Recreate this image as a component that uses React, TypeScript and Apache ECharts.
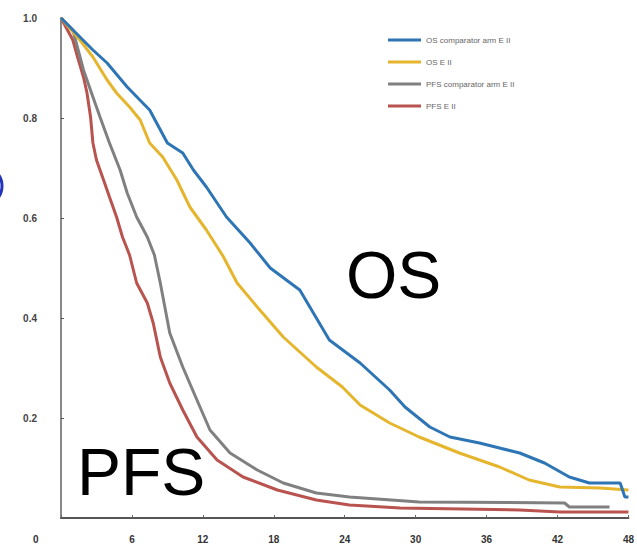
import React, { useEffect, useRef } from "react";
import * as echarts from "echarts";

const xTicks = [0, 6, 12, 18, 24, 30, 36, 42, 48];
const yTicks = [0, 0.2, 0.4, 0.6, 0.8, 1.0];

const seriesNames = [
  "OS comparator arm E II",
  "OS E II",
  "PFS comparator arm E II",
  "PFS E II",
];
const seriesColors = ["#2e75b5", "#e6b52e", "#808080", "#b9534f"];

const osBlue: [number, number][] = [
  [0, 1.0], [2.7, 0.936], [3.9, 0.91], [5.6, 0.862], [7.5, 0.816], [9.0, 0.75],
  [10.3, 0.73], [11.2, 0.696], [12.3, 0.662], [14.0, 0.602], [16.0, 0.55],
  [17.7, 0.5], [20.2, 0.456], [22.7, 0.356], [25.3, 0.31], [27.8, 0.256],
  [29.1, 0.222], [31.2, 0.182], [32.9, 0.162], [35.4, 0.15], [38.8, 0.13],
  [40.9, 0.11], [43.0, 0.082], [44.7, 0.07], [47.3, 0.07], [47.7, 0.042], [48, 0.042],
];
const osYellow: [number, number][] = [
  [0, 1.0], [1.6, 0.956], [2.7, 0.922], [3.9, 0.876], [4.7, 0.85], [5.8, 0.822],
  [6.7, 0.796], [7.5, 0.75], [8.6, 0.722], [9.8, 0.676], [10.9, 0.622],
  [12.3, 0.576], [13.7, 0.524], [14.9, 0.47], [16.6, 0.422], [18.8, 0.362],
  [21.6, 0.302], [23.8, 0.262], [25.3, 0.226], [27.8, 0.19], [30.3, 0.162],
  [33.7, 0.13], [37.1, 0.102], [39.6, 0.076], [42.2, 0.062], [45.6, 0.06], [48, 0.056],
];
const pfsGray: [number, number][] = [
  [0, 1.0], [1.0, 0.976], [1.9, 0.896], [2.7, 0.842], [3.3, 0.802], [4.1, 0.75],
  [5.0, 0.696], [5.6, 0.65], [6.4, 0.602], [7.3, 0.562], [7.9, 0.526],
  [8.4, 0.47], [9.2, 0.37], [10.3, 0.302], [11.5, 0.236], [12.6, 0.176],
  [14.3, 0.13], [16.6, 0.096], [18.8, 0.07], [21.6, 0.05], [24.4, 0.042],
  [30.3, 0.032], [42.6, 0.03], [43.0, 0.022], [46.4, 0.022],
];
const pfsRed: [number, number][] = [
  [0, 1.0], [1.0, 0.956], [1.4, 0.922], [1.9, 0.882], [2.2, 0.85], [2.5, 0.802],
  [2.7, 0.75], [3.0, 0.716], [3.6, 0.676], [4.1, 0.642], [4.7, 0.602],
  [5.2, 0.562], [5.8, 0.526], [6.4, 0.47], [7.3, 0.43], [7.8, 0.39],
  [8.4, 0.322], [9.2, 0.27], [10.3, 0.216], [11.5, 0.162], [13.2, 0.116],
  [15.4, 0.082], [18.3, 0.056], [21.6, 0.036], [24.4, 0.026], [28.7, 0.02],
  [38.8, 0.016], [42.2, 0.012], [48, 0.012],
];

const allSeries = [osBlue, osYellow, pfsGray, pfsRed];

export default function App() {
  const ref = useRef<HTMLDivElement>(null);
  useEffect(() => {
    if (!ref.current) return;
    const chart = echarts.init(ref.current, undefined, { renderer: "svg" });
    const font = "Liberation Sans, Arial, sans-serif";
    chart.setOption({
      animation: false,
      grid: { left: 61, right: 8, top: 18, bottom: 32 },
      legend: {
        orient: "vertical",
        left: 383,
        top: 29,
        itemWidth: 33,
        itemHeight: 3,
        itemGap: 10,
        icon: "rect",
        textStyle: { fontSize: 8, color: "#666", fontFamily: font, lineHeight: 12 },
        data: seriesNames,
      },
      xAxis: {
        type: "value",
        min: xTicks[0],
        max: xTicks[xTicks.length - 1],
        interval: 6,
        splitLine: { show: false },
        axisLine: { lineStyle: { color: "#555", width: 2 } },
        axisTick: { show: true, inside: true, length: 3, lineStyle: { color: "#666" } },
        axisLabel: {
          color: "#333",
          fontSize: 10,
          fontWeight: "bold",
          fontFamily: font,
          margin: 16,
          formatter: (v: number) => (v === 0 ? "" : String(v)),
        },
      },
      yAxis: {
        type: "value",
        min: yTicks[0],
        max: yTicks[yTicks.length - 1],
        interval: 0.2,
        splitLine: { show: false },
        axisLine: { show: true, lineStyle: { color: "#888", width: 2 } },
        axisTick: { show: true, inside: true, length: 3, lineStyle: { color: "#555" } },
        axisLabel: {
          color: "#444",
          fontSize: 10,
          fontWeight: "bold",
          fontFamily: font,
          margin: 24,
          formatter: (v: number) => (v === 0 ? "" : v.toFixed(1)),
        },
      },
      series: allSeries.map((d, i) => ({
        name: seriesNames[i],
        type: "line",
        data: d,
        showSymbol: false,
        symbol: "none",
        lineStyle: { color: seriesColors[i], width: 3 },
        itemStyle: { color: seriesColors[i] },
        z: 4 - i,
      })),
      graphic: [
        {
          type: "text",
          left: 33,
          top: 534,
          style: { text: "0", fontSize: 10, fontWeight: "bold", fill: "#333", fontFamily: font },
        },
        {
          type: "text",
          x: 346,
          y: 275,
          style: {
            text: "OS",
            fontSize: 66,
            fill: "#000",
            fontFamily: font,
            verticalAlign: "middle",
          },
        },
        {
          type: "text",
          x: 77,
          y: 472,
          style: {
            text: "PFS",
            fontSize: 66,
            fill: "#000",
            fontFamily: font,
            verticalAlign: "middle",
          },
        },
        {
          type: "ellipse",
          shape: { cx: -10, cy: 186, rx: 12, ry: 16 },
          style: { fill: "none", stroke: "#2233bb", lineWidth: 3 },
        },
      ],
    });
    return () => chart.dispose();
  }, []);
  return <div ref={ref} style={{ width: 637, height: 550, position: "absolute", left: 0, top: 0 }} />;
}
